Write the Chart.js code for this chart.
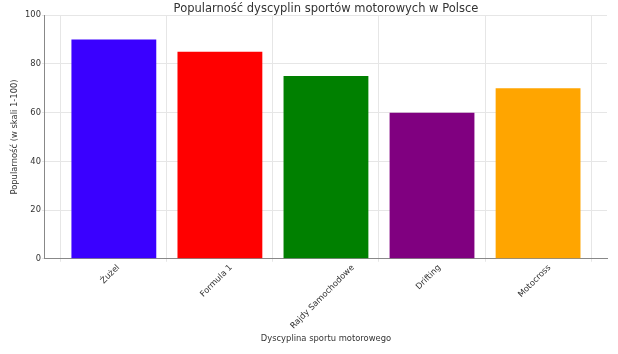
<!DOCTYPE html>
<html>
<head>
<meta charset="utf-8">
<script src="https://cdn.jsdelivr.net/npm/chart.js@4"></script>
<style>
  html, body { margin: 0; padding: 0; background: #fff; }
  #wrap { width: 618px; height: 354px; }
</style>
</head>
<body>
<div id="wrap"><canvas id="sportsChart"></canvas></div>
<script>
// categories and values
const disciplines = ['Żużel', 'Formula 1', 'Rajdy Samochodowe', 'Drifting', 'Motocross'];
const popularity = [90, 85, 75, 60, 70];
const barColors = ['#3a00ff', '#ff0000', '#008000', '#800080', '#ffa500'];
const yTicks = [0, 20, 40, 60, 80, 100];

const FONT = "'DejaVu Sans', sans-serif";
const TEXT = '#333';

// rotated x labels centred under their tick (like ha='center'), not ending at it
const centerRotatedLabels = {
    id: 'centerRotatedLabels',
    beforeDraw(chart) {
        const xs = chart.scales.x;
        const items = xs.getLabelItems();
        const ctx = chart.ctx;
        items.forEach(it => {
            if (it._centered) return;
            ctx.save();
            ctx.font = it.font.string;
            const w = ctx.measureText(it.label).width;
            ctx.restore();
            const h = it.font.lineHeight;
            const [tx, ty] = it.options.translation;
            it.options.textAlign = 'center';
            it.options.translation = [tx - 0.354 * h, ty + 0.354 * w];
            it._centered = true;
        });
    }
};

new Chart(document.getElementById('sportsChart'), {
    type: 'bar',
    data: {
        datasets: [{
            data: popularity.map((v, i) => ({ x: i, y: v })),
            backgroundColor: barColors,
            borderWidth: 0,
            barPercentage: 0.8,
            categoryPercentage: 1
        }]
    },
    plugins: [centerRotatedLabels],
    options: {
        responsive: true,
        maintainAspectRatio: false,
        animation: false,
        layout: { padding: { left: 10, right: 11, top: 0, bottom: 10 } },
        plugins: {
            legend: { display: false },
            tooltip: { enabled: false },
            title: {
                display: true,
                text: 'Popularność dyscyplin sportów motorowych w Polsce',
                fullSize: false,
                color: TEXT,
                font: { family: FONT, size: 11.5, weight: 'normal', lineHeight: 1.15 },
                padding: { top: 2, bottom: 0 }
            }
        },
        scales: {
            x: {
                type: 'linear',
                offset: false,
                min: -0.65,
                max: 4.65,
                afterBuildTicks: axis => { axis.ticks = disciplines.map((_, i) => ({ value: i })); },
                ticks: {
                    callback: v => disciplines[v],
                    minRotation: 45,
                    maxRotation: 45,
                    color: TEXT,
                    font: { family: FONT, size: 8.3 },
                    padding: 1
                },
                grid: { color: '#e6e6e6', tickLength: 3 },
                border: { color: '#888', width: 1 },
                title: {
                    display: true,
                    text: 'Dyscyplina sportu motorowego',
                    color: TEXT,
                    font: { family: FONT, size: 8.4 },
                    padding: { top: 2, bottom: 0 }
                }
            },
            y: {
                min: 0,
                max: 100,
                afterBuildTicks: axis => { axis.ticks = yTicks.map(v => ({ value: v })); },
                ticks: {
                    color: TEXT,
                    font: { family: FONT, size: 8.3 },
                    padding: 1
                },
                grid: { color: '#e6e6e6', tickLength: 3 },
                border: { color: '#888', width: 1 },
                title: {
                    display: true,
                    text: 'Popularność (w skali 1-100)',
                    color: TEXT,
                    font: { family: FONT, size: 8.4 },
                    padding: { top: 0, bottom: 4 }
                }
            }
        }
    }
});
</script>
</body>
</html>
